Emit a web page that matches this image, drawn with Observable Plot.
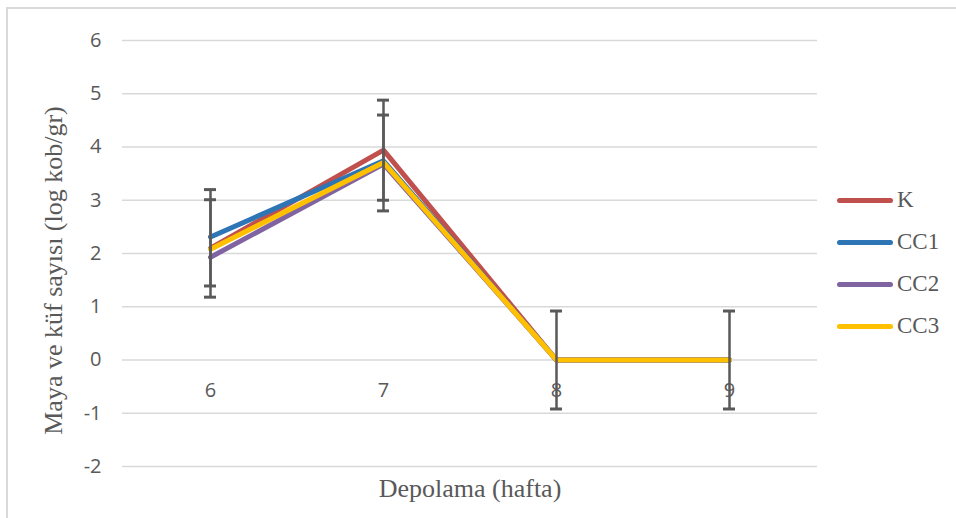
<!DOCTYPE html>
<html>
<head>
<meta charset="utf-8">
<script src="https://cdn.jsdelivr.net/npm/d3@7"></script>
<script src="https://cdn.jsdelivr.net/npm/@observablehq/plot@0.6"></script>
<style>
  html, body { margin: 0; padding: 0; background: #fff; }
  #wrap { position: relative; width: 956px; height: 518px; overflow: hidden; }
  #frame { position: absolute; left: 6px; top: 7px; width: 1000px; height: 600px;
           border-top: 2px solid #d9d9d9; border-left: 2px solid #d9d9d9; box-sizing: border-box; }
  #chart { position: absolute; left: 0; top: 0; }
  #legend { position: absolute; left: 837px; top: 179px; font-family: "Liberation Serif", serif;
            font-size: 23px; color: #595959; }
  .item { display: flex; align-items: center; height: 42px; }
  .sw { width: 56px; height: 5px; border-radius: 3px; margin-right: 4px; }
</style>
</head>
<body>
<div id="wrap"><div id="frame"></div><div id="chart"></div><div id="legend"></div></div>
<script>
const weeks = [6, 7, 8, 9];
const seriesNames = ["K", "CC1", "CC2", "CC3"];
const seriesColors = ["#C0504D", "#2E75B6", "#8064A2", "#FFC000"];
const K   = [2.10, 3.94, 0, 0];
const CC1 = [2.31, 3.74, 0, 0];
const CC2 = [1.93, 3.68, 0, 0];
const CC3 = [2.08, 3.71, 0, 0];
const errWeek = [6, 6, 7, 7, 8, 9];
const errMean = [2.19, 2.20, 3.94, 3.70, 0, 0];
const errSd   = [1.01, 0.81, 0.94, 0.90, 0.92, 0.92];
const yTicks = [-2, -1, 0, 1, 2, 3, 4, 5, 6];

const seriesValues = [K, CC1, CC2, CC3];
const lineData = [];
seriesNames.forEach((s, i) => weeks.forEach((w, j) => lineData.push({series: s, week: w, value: seriesValues[i][j]})));
const errData = errWeek.map((w, i) => ({week: w, lo: errMean[i] - errSd[i], hi: errMean[i] + errSd[i]}));

const chart = Plot.plot({
  width: 956, height: 518,
  marginLeft: 122, marginRight: 139, marginTop: 40, marginBottom: 52,
  style: {fontFamily: "'Open Sans', sans-serif", fontSize: "20px", color: "#595959", background: "transparent"},
  x: {type: "point", domain: weeks, padding: 0.5, axis: null},
  y: {domain: [-2, 6], axis: null},
  color: {domain: seriesNames, range: seriesColors},
  marks: [
    Plot.ruleY(yTicks, {stroke: "#d9d9d9", strokeWidth: 1.3}),
    Plot.text(weeks, {x: d => d, y: 0, dy: 31, text: d => String(d), fill: "#595959", fontSize: 20}),
    Plot.line(lineData, {x: "week", y: "value", z: "series", stroke: "series", strokeWidth: 5, strokeLinecap: "round", strokeLinejoin: "miter"}),
    Plot.ruleX(errData, {x: "week", y1: "lo", y2: "hi", stroke: "#595959", strokeWidth: 2.5}),
    Plot.ruleY(errData, {x1: "week", x2: "week", y: "lo", stroke: "#595959", strokeWidth: 3, insetLeft: -6, insetRight: -6}),
    Plot.ruleY(errData, {x1: "week", x2: "week", y: "hi", stroke: "#595959", strokeWidth: 3, insetLeft: -6, insetRight: -6}),
    Plot.axisY({ticks: yTicks, tickFormat: d => String(d), tickSize: 0, tickPadding: 21, label: null, fill: "#595959", fontSize: 20}),
    Plot.text(["Maya ve küf sayısı (log kob/gr)"], {frameAnchor: "left", textAnchor: "middle", lineAnchor: "middle", dx: -69, dy: 17, rotate: -90, fontFamily: "'Liberation Serif', serif", fontSize: 26, fill: "#595959"}),
    Plot.text(["Depolama (hafta)"], {frameAnchor: "bottom", lineAnchor: "middle", dy: 22, fontFamily: "'Liberation Serif', serif", fontSize: 26, fill: "#595959"})
  ]
});
document.getElementById("chart").appendChild(chart);

const leg = document.getElementById("legend");
seriesNames.forEach((s, i) => {
  const it = document.createElement("div"); it.className = "item";
  const sw = document.createElement("div"); sw.className = "sw"; sw.style.background = seriesColors[i];
  const t = document.createElement("span"); t.textContent = s;
  it.appendChild(sw); it.appendChild(t); leg.appendChild(it);
});
</script>
</body>
</html>
